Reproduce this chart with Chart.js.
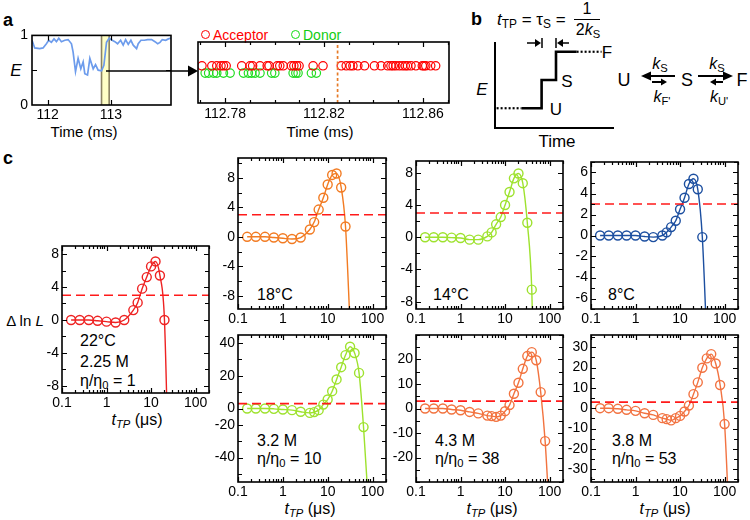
<!DOCTYPE html>
<html lang="en">
<head>
<meta charset="UTF-8">
<title>Transition path analysis</title>
<script src="https://cdn.jsdelivr.net/npm/chart.js"></script>
<style>
  body { margin:0; width:750px; height:520px; position:relative; overflow:hidden; background:#fff;
         font-family:"Liberation Sans", Arial, sans-serif; color:#000; }
  canvas { position:absolute; }
  .tx { position:absolute; white-space:nowrap; line-height:1; font-size:16px; transform:translateY(-50%); }
  .c { transform:translate(-50%,-50%); }
  .b { font-weight:bold; font-size:18px; }
  sub { font-size:70%; vertical-align:-0.3em; line-height:0; }
  .ring { display:inline-block; width:7px; height:7px; border:1.4px solid; border-radius:50%; vertical-align:1px; margin-right:3px; }
  svg { position:absolute; left:0; top:0; }
</style>
</head>
<body>
<!-- panel letters -->
<div class="tx b" style="left:3px;top:20px">a</div>
<div class="tx b" style="left:471px;top:19px">b</div>
<div class="tx b" style="left:3px;top:158px">c</div>

<!-- panel a -->
<div class="tx c" style="left:16px;top:70px;font-style:italic;font-size:17px">E</div>
<div class="tx c" style="left:84px;top:131px;font-size:15px">Time (ms)</div>
<div class="tx c" style="left:320px;top:131px;font-size:15px">Time (ms)</div>
<div class="tx" style="left:201px;top:35px;font-size:14px;color:#f00"><span class="ring" style="border-color:#f00"></span>Acceptor</div>
<div class="tx" style="left:291px;top:35px;font-size:14px;color:#1c1"><span class="ring" style="border-color:#1d1"></span>Donor</div>

<!-- panel b -->
<div class="tx" style="left:497px;top:19px;font-size:17px"><i>t</i><sub>TP</sub> = τ<sub>S</sub> =</div>
<div class="tx c" style="left:587px;top:9px;font-size:16px">1</div>
<div style="position:absolute;left:574px;top:19px;width:26px;height:1.3px;background:#000"></div>
<div class="tx c" style="left:588px;top:30px;font-size:16px">2<i>k</i><sub>S</sub></div>
<div class="tx c" style="left:482px;top:89px;font-style:italic;font-size:17px">E</div>
<div class="tx c" style="left:557px;top:141px;font-size:17px">Time</div>
<div class="tx c" style="left:556px;top:109px;font-size:17px">U</div>
<div class="tx c" style="left:567px;top:81px;font-size:17px">S</div>
<div class="tx c" style="left:607px;top:52px;font-size:17px">F</div>
<div class="tx c" style="left:624px;top:80px;font-size:18px">U</div>
<div class="tx c" style="left:687px;top:80px;font-size:18px">S</div>
<div class="tx c" style="left:742px;top:80px;font-size:18px">F</div>
<div class="tx c" style="left:660px;top:64px;font-size:16px"><i>k</i><sub>S</sub></div>
<div class="tx c" style="left:717px;top:64px;font-size:16px"><i>k</i><sub>S</sub></div>
<div class="tx c" style="left:662px;top:97px;font-size:16px"><i>k</i><sub>F'</sub></div>
<div class="tx c" style="left:719px;top:97px;font-size:16px"><i>k</i><sub>U'</sub></div>

<!-- panel c -->
<div class="tx c" style="left:25px;top:320px;font-size:15px">Δ ln <i>L</i></div>
<div class="tx" style="left:80px;top:341px">22°C</div>
<div class="tx" style="left:80px;top:362px">2.25 M</div>
<div class="tx" style="left:80px;top:381px">η/η<sub>0</sub> = 1</div>
<div class="tx" style="left:257px;top:295px">18°C</div>
<div class="tx" style="left:433px;top:295px">14°C</div>
<div class="tx" style="left:608px;top:295px">8°C</div>
<div class="tx" style="left:257px;top:441px">3.2 M</div>
<div class="tx" style="left:257px;top:459px">η/η<sub>0</sub> = 10</div>
<div class="tx" style="left:435px;top:441px">4.3 M</div>
<div class="tx" style="left:435px;top:459px">η/η<sub>0</sub> = 38</div>
<div class="tx" style="left:612px;top:441px">3.8 M</div>
<div class="tx" style="left:612px;top:459px">η/η<sub>0</sub> = 53</div>
<div class="tx c" style="left:137px;top:420px"><i>t<sub>TP</sub></i> (μs)</div>
<div class="tx c" style="left:310px;top:509px"><i>t<sub>TP</sub></i> (μs)</div>
<div class="tx c" style="left:492px;top:509px"><i>t<sub>TP</sub></i> (μs)</div>
<div class="tx c" style="left:665px;top:509px"><i>t<sub>TP</sub></i> (μs)</div>

<svg width="750" height="520">
  <g stroke="#000" stroke-width="1.5">
    <line x1="106" y1="71" x2="190" y2="71"/>
    <line x1="527" y1="43" x2="537" y2="43"/><line x1="542" y1="38" x2="542" y2="48"/>
    <line x1="556" y1="38" x2="556" y2="48"/><line x1="561" y1="43" x2="569" y2="43"/>
  </g>
  <g stroke="#000" stroke-width="2">
    <line x1="650" y1="76" x2="675" y2="76"/><line x1="652" y1="82" x2="662" y2="82"/>
    <line x1="698" y1="76" x2="724" y2="76"/><line x1="716" y1="82" x2="723" y2="82"/>
  </g>
  <polygon points="188,65.5 198,71 188,76.5"/>
  <polygon points="535,39 541,43 535,47"/><polygon points="563,39 557,43 563,47"/>
  <polygon points="651,71.5 641,76 651,80.5"/><polygon points="661,78.5 667,82 661,85.5"/>
  <polygon points="723,71.5 733,76 723,80.5"/><polygon points="716,78.5 710,82 716,85.5"/>
</svg>

<script>
// ---- panel a: FRET efficiency trace ----
const traceT = [111.751,111.794,111.873,111.926,111.979,112.016,112.058,112.1,112.138,112.175,112.217,112.27,112.323,112.376,112.402,112.44,112.481,112.524,112.561,112.587,112.63,112.667,112.72,112.757,112.798,112.852,112.889,112.931,112.973,113.021,113.063,113.106,113.154,113.195,113.233,113.275,113.317,113.354,113.407,113.433,113.476,113.529,113.582,113.646,113.698,113.741,113.778,113.814,113.868,113.91,113.952];
const traceE = [0.93,0.82,0.81,0.82,0.88,0.93,0.9,0.95,0.91,0.96,0.91,0.93,0.94,0.88,0.76,0.48,0.67,0.52,0.62,0.45,0.43,0.67,0.52,0.58,0.5,0.49,0.57,0.9,0.96,0.93,0.91,0.88,0.93,0.86,0.94,0.87,0.93,0.86,0.81,0.88,0.93,0.93,0.94,0.94,0.91,0.88,0.9,0.94,0.93,0.95,0.96];
const bandStart = 112.852, bandEnd = 112.973;

// ---- panel a: photon arrival times (ms) ----
const acceptorT = [112.7706,112.7746,112.7766,112.7783,112.7793,112.7804,112.7867,112.7901,112.7911,112.7941,112.7970,112.7978,112.8011,112.8021,112.8035,112.8068,112.8078,112.8089,112.8099,112.8156,112.8196,112.8270,112.8290,112.8306,112.8317,112.8337,112.8364,112.8404,112.8431,112.8458,112.8471,112.8480,112.8491,112.8505,112.8518,112.8529,112.8538,112.8552,112.8572,112.8598,112.8605,112.8612,112.8632,112.8652];
const donorT = [112.7719,112.7733,112.7753,112.7766,112.7793,112.7820,112.7874,112.7894,112.7907,112.7921,112.7941,112.7988,112.8001,112.8075,112.8086,112.8095,112.8149,112.8169];
const cutT = 112.8255;

// ---- panel b: schematic step trace (time, E level) ----
const lowDotT = [0.08, 1.33], lowDotE = [1, 1];
const stepT = [1.33, 2.33, 2.33, 3.05, 3.05, 4.08];
const stepE = [1, 1, 2, 2, 3, 3];
const highDotT = [4.08, 5.33], highDotE = [3, 3];

// ---- panel c: likelihood difference vs transition path time ----
const tTP = [0.16,0.25,0.4,0.63,1,1.6,2.5,4,5,6.3,8,10,12.6,15.8,20,25,31.6,39.8,50.1,63.1,79.4,100,126];
const threshold = 3;
const dlnL22 = [0,0,0,-0.1,-0.2,-0.3,0,1.2,2.1,3.8,5.2,6.5,7.1,5.4,0,-20];
const dlnL18 = [0,0,0,-0.1,-0.2,-0.3,-0.1,1.0,2.0,3.7,5.3,7.1,8.4,8.6,6.7,1.4,-12];
const dlnL14 = [0,0,0,-0.05,-0.1,-0.3,-0.3,0.1,0.6,1.6,2.5,4.0,5.6,7.3,7.9,6.7,1.8,-6.5,-30];
const dlnL8  = [0,0,0,0,0,-0.1,-0.15,0,0.3,0.8,1.4,2.5,3.6,4.9,5.4,4.4,-0.15,-10];
const dlnL32 = [0,0,0,-0.2,-0.6,-1,-2,-2.7,-2.2,-1,2.4,5.5,10.6,17.8,25.3,32.7,37.8,34,21.8,-11.4,-55];
const dlnL43 = [0,0,0,-0.4,-0.7,-1.4,-2,-2.9,-3.1,-3.4,-2.9,-1.1,1.4,6,10.5,16.2,21.4,23,19.7,6.7,-13.3,-45];
const dlnL38 = [0,0,-0.3,-0.8,-1.3,-2.5,-3.3,-4.9,-5.4,-6,-4.9,-3.8,-1.6,1.3,6.9,12.7,19.9,24.5,26.6,22,11.4,-7.8,-55];

const xTickVals = [0.1, 1, 10, 100];
const xTickLabels = ['0.1', '1', '10', '100'];

Chart.defaults.font.family = '"Liberation Sans", Arial, sans-serif';
Chart.defaults.font.size = 14;
Chart.defaults.color = '#000';

// inward ticks on all four sides plus the closed frame
const frame = {
  id: 'frame',
  afterDraw(chart, args, o) {
    if (o.off) return;
    const { ctx, chartArea: a, scales } = chart;
    const xs = scales.x, ys = scales.y;
    ctx.save();
    ctx.strokeStyle = '#000';
    ctx.lineWidth = 1.2;
    ctx.beginPath();
    const xt = (list, len) => (list || []).forEach(v => {
      const p = Math.round(xs.getPixelForValue(v)) + 0.5;
      ctx.moveTo(p, a.bottom); ctx.lineTo(p, a.bottom - len);
      ctx.moveTo(p, a.top); ctx.lineTo(p, a.top + len);
    });
    const yt = (list, len) => (list || []).forEach(v => {
      const p = Math.round(ys.getPixelForValue(v)) + 0.5;
      ctx.moveTo(a.left, p); ctx.lineTo(a.left + len, p);
      ctx.moveTo(a.right, p); ctx.lineTo(a.right - len, p);
    });
    xt(o.xMajor, 5); xt(o.xMinor, 3);
    yt(o.yMajor, 5); yt(o.yMinor, 4);
    ctx.stroke();
    ctx.lineWidth = 1.6;
    ctx.strokeRect(a.left, a.top, a.right - a.left, a.bottom - a.top);
    ctx.restore();
  }
};

// shaded selection in the trace
const band = {
  id: 'band',
  beforeDatasetsDraw(chart, args, o) {
    if (!o.on) return;
    const { ctx, chartArea: a, scales } = chart;
    const x1 = scales.x.getPixelForValue(bandStart), x2 = scales.x.getPixelForValue(bandEnd);
    ctx.save();
    ctx.fillStyle = '#ffffc6';
    ctx.fillRect(x1, a.top, x2 - x1, a.bottom - a.top);
    ctx.strokeStyle = '#8b8363';
    ctx.lineWidth = 1.6;
    ctx.beginPath();
    ctx.moveTo(x1, a.top); ctx.lineTo(x1, a.bottom);
    ctx.moveTo(x2, a.top); ctx.lineTo(x2, a.bottom);
    ctx.stroke();
    ctx.restore();
  }
};
Chart.register(frame, band);

function mk(box, cfg, m) {
  m = Object.assign({ yw: 44, xh: 24, pt: 12, pr: 16 }, m || {});
  const c = document.createElement('canvas');
  const w = box.r - box.l + m.yw + m.pr, h = box.b - box.t + m.pt + m.xh;
  c.width = w; c.height = h;
  c.style.left = (box.l - m.yw) + 'px';
  c.style.top = (box.t - m.pt) + 'px';
  c.style.width = w + 'px'; c.style.height = h + 'px';
  document.body.insertBefore(c, document.querySelector('svg'));
  cfg.options = Object.assign({
    responsive: false, animation: false, events: [],
    layout: { padding: { top: m.pt, right: m.pr, left: 0, bottom: 0 } }
  }, cfg.options);
  cfg.options.scales.x.afterFit = s => { s.height = m.xh; };
  cfg.options.scales.y.afterFit = s => { s.width = m.yw; };
  return new Chart(c, cfg);
}

function fixedTicks(vals, labels, extra) {
  return Object.assign({
    afterBuildTicks: s => { s.ticks = vals.map(v => ({ value: v })); },
    ticks: { callback: (v, i) => labels[i], padding: 3, autoSkip: false, maxRotation: 0 },
    grid: { display: false, drawTicks: false },
    border: { display: false }
  }, extra);
}

function range(from, to, step) {
  const out = [];
  for (let v = from; v <= to + 1e-9; v += step) out.push(+v.toFixed(6));
  return out;
}

const logMinor = [];
[0.1, 1, 10, 100].forEach(d => { for (let k = 2; k <= 9; k++) if (k * d <= 200) logMinor.push(k * d); });

function dlnPlot(box, series, color, yMin, yMax, yVals, yLabels, yMinor) {
  const pts = series.map((y, i) => ({ x: tTP[i], y }));
  const yAxis = fixedTicks(yVals, yLabels, { type: 'linear', min: yMin, max: yMax });
  yAxis.ticks.padding = 3;
  const xAxis = fixedTicks(xTickVals, xTickLabels, { type: 'logarithmic', min: 0.1, max: 200 });
  xAxis.ticks.padding = 2;
  return mk(box, {
    type: 'line',
    data: { datasets: [
      { data: [{ x: 0.1, y: threshold }, { x: 200, y: threshold }], borderColor: '#ff1a1a',
        borderDash: [9, 5], borderWidth: 1.6, pointRadius: 0 },
      { data: pts, borderColor: color, borderWidth: 1.4, pointRadius: 4.5, pointBorderWidth: 1.4,
        pointBackgroundColor: 'rgba(0,0,0,0)', pointBorderColor: color, cubicInterpolationMode: 'monotone' }
    ] },
    options: {
      plugins: { legend: { display: false }, tooltip: { enabled: false },
        frame: { xMajor: xTickVals, xMinor: logMinor, yMajor: yVals, yMinor: yMinor } },
      scales: { x: xAxis, y: yAxis }
    }
  });
}

// panel a, left: E trace
(function () {
  const xAxis = fixedTicks([112, 113], ['112', '113'], { type: 'linear', min: 111.751, max: 113.952 });
  xAxis.ticks.padding = 2;
  const yAxis = fixedTicks([0, 0.5, 1], ['0', '', '1'], { type: 'linear', min: 0, max: 1 });
  yAxis.ticks.padding = 4;
  mk({ l: 32, t: 35, r: 171, b: 105 }, {
    type: 'line',
    data: { datasets: [{ data: traceT.map((t, i) => ({ x: t, y: traceE[i] })), borderColor: '#6d9cec',
      borderWidth: 1.7, pointRadius: 0, tension: 0 }] },
    options: {
      plugins: { legend: { display: false }, tooltip: { enabled: false }, band: { on: true },
        frame: { xMajor: [112, 113], yMajor: [0.5] } },
      scales: { x: xAxis, y: yAxis }
    }
  }, { yw: 32, pr: 10 });
})();

// panel a, right: photon arrivals
(function () {
  const xAxis = fixedTicks([112.78, 112.82, 112.86], ['112.78', '112.82', '112.86'],
    { type: 'linear', min: 112.769, max: 112.8706 });
  xAxis.ticks.padding = 3;
  const yAxis = fixedTicks([], [], { type: 'linear', min: 0, max: 10 });
  yAxis.ticks.display = false;
  mk({ l: 198, t: 42, r: 449, b: 103 }, {
    type: 'scatter',
    data: { datasets: [
      { data: [{ x: cutT, y: 0 }, { x: cutT, y: 10 }], showLine: true, borderColor: '#e67a26',
        borderDash: [3, 2.5], borderWidth: 1.7, pointRadius: 0 },
      { data: acceptorT.map(t => ({ x: t, y: 6.1 })), pointRadius: 4.2, pointBorderWidth: 1.2,
        pointBorderColor: '#ff0000', pointBackgroundColor: 'rgba(0,0,0,0)' },
      { data: donorT.map(t => ({ x: t, y: 4.9 })), pointRadius: 4.2, pointBorderWidth: 1.2,
        pointBorderColor: '#22dd22', pointBackgroundColor: 'rgba(0,0,0,0)' }
    ] },
    options: {
      plugins: { legend: { display: false }, tooltip: { enabled: false },
        frame: { xMajor: [112.78, 112.82, 112.86], xMinor: [112.77, 112.79, 112.8, 112.81, 112.83, 112.84, 112.85, 112.87] } },
      scales: { x: xAxis, y: yAxis }
    }
  }, { yw: 10, pr: 20 });
})();

// panel b: schematic trajectory (only the left and bottom axis lines)
(function () {
  const axis = (min, max) => ({ type: 'linear', min, max, ticks: { display: false },
    grid: { display: false, drawTicks: false }, border: { display: true, color: '#000', width: 2 } });
  const pts = (ts, es) => ts.map((t, i) => ({ x: t, y: es[i] }));
  mk({ l: 495, t: 43, r: 613, b: 128 }, {
    type: 'scatter',
    data: { datasets: [
      { data: pts(lowDotT, lowDotE), showLine: true, borderColor: '#000', borderWidth: 2.2, borderDash: [2, 2], pointRadius: 0 },
      { data: pts(stepT, stepE), showLine: true, borderColor: '#000', borderWidth: 2.6, pointRadius: 0 },
      { data: pts(highDotT, highDotE), showLine: true, borderColor: '#000', borderWidth: 2.2, borderDash: [2, 2], pointRadius: 0 }
    ] },
    options: {
      plugins: { legend: { display: false }, tooltip: { enabled: false }, frame: { off: true } },
      scales: { x: axis(0, 5.9), y: axis(0.3, 3.31) }
    }
  }, { yw: 4, xh: 4, pt: 4, pr: 4 });
})();

// panel c
const yT8 = [8, 4, 0, -4, -8], yL8 = ['8', '4', '0', '-4', '-8'];
dlnPlot({ l: 62, t: 246, r: 209, b: 393 }, dlnL22, '#ee2222', -8.85, 8.97, yT8, yL8, range(-8, 8, 2));
dlnPlot({ l: 238, t: 158, r: 386, b: 309 }, dlnL18, '#f27b22', -9.8, 10.7, yT8, yL8, range(-8, 10, 2));
dlnPlot({ l: 416, t: 161, r: 563, b: 309 }, dlnL14, '#9ee22e', -8.9, 9.45, yT8, yL8, range(-8, 8, 2));
dlnPlot({ l: 591, t: 162, r: 738, b: 309 }, dlnL8, '#1c4fa0', -7, 7, [6, 4, 2, 0, -2, -4, -6],
  ['6', '4', '2', '0', '-2', '-4', '-6'], range(-7, 7, 1));
dlnPlot({ l: 238, t: 335, r: 386, b: 482 }, dlnL32, '#9ee22e', -45, 45, [40, 20, 0, -10, -30],
  ['40', '20', '0', '-20', '-40'], range(-40, 40, 10));
dlnPlot({ l: 416, t: 335, r: 563, b: 482 }, dlnL43, '#f2733f', -30, 30, [20, 10, 0, -10, -20],
  ['20', '10', '0', '-10', '-20'], range(-30, 30, 5));
dlnPlot({ l: 591, t: 335, r: 738, b: 482 }, dlnL38, '#f27342', -36.3, 36, [30, 20, 10, 0, -10, -20, -30],
  ['30', '20', '10', '0', '-10', '-20', '-30'], range(-35, 35, 5));
</script>
</body>
</html>
